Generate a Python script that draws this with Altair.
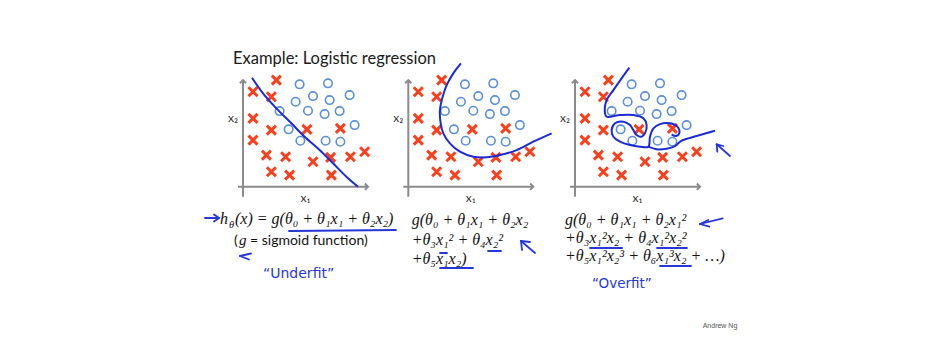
import altair as alt
import pandas as pd

# ---------------- data (x1, x2 in axis units) ----------------
cross_x1 = [2.67, 0.80, 2.27, 0.80, 2.27, 5.12, 7.79, 0.80, 1.87, 3.41, 5.60, 7.01, 8.59, 9.73, 2.27, 3.73, 7.07]
cross_x2 = [8.53, 7.60, 7.20, 5.47, 4.53, 4.59, 4.67, 3.73, 2.53, 2.40, 2.00, 2.35, 2.40, 2.80, 1.20, 0.93, 0.93]
circ_x1 = [4.53, 6.80, 5.60, 4.21, 6.93, 8.53, 2.93, 5.20, 6.53, 7.73, 3.65, 8.93, 4.59, 6.61, 7.79]
circ_x2 = [8.19, 8.27, 7.25, 6.80, 6.93, 7.33, 6.05, 6.08, 5.81, 6.05, 4.59, 4.93, 3.68, 3.68, 3.60]

# decision boundaries
b1_x1 = [0.72, 1.60, 2.67, 3.87, 4.93, 6.13, 7.20, 8.27, 9.20]
b1_x2 = [8.72, 7.47, 6.27, 5.07, 4.00, 2.93, 1.87, 0.80, 0.00]

b2_x1 = [4.21, 3.60, 3.07, 2.75, 2.53, 2.59, 2.80, 3.33, 4.13, 5.20, 6.27, 7.33, 8.67, 10.0, 11.47]
b2_x2 = [9.87, 9.07, 8.13, 7.20, 6.13, 5.07, 4.27, 3.47, 2.80, 2.40, 2.35, 2.53, 2.93, 3.60, 4.27]

b3a_x1 = [4.35, 3.73, 3.07, 2.53, 2.40, 2.53, 3.60, 4.67, 5.47, 5.73, 5.60, 5.33, 4.93, 4.67, 4.40, 3.87,
          3.20, 2.93, 3.07, 3.60, 4.40, 5.20, 5.87, 6.00, 6.27, 6.80, 7.60, 8.19, 8.35, 8.08, 7.73]
b3a_x2 = [9.52, 8.67, 7.73, 6.93, 5.87, 5.60, 5.73, 5.73, 5.47, 4.93, 4.27, 4.00, 4.13, 4.53, 4.93, 5.20,
          5.07, 4.53, 4.00, 3.60, 3.33, 3.20, 3.20, 4.00, 4.67, 5.01, 5.07, 4.80, 4.32, 4.05, 4.19]
b3b_x1 = [5.87, 6.53, 7.33, 8.00, 8.53, 9.73, 11.20]
b3b_x2 = [3.20, 2.99, 3.04, 3.25, 3.68, 4.05, 4.48]

# axis extents (x1 axis, x2 axis)
AXIS_X = [-0.4, 10.0]
AXIS_Y = [-0.8, 8.53]

# texts
TITLE = "Example: Logistic regression"
LBL_X1 = "x₁"
LBL_X2 = "x₂"
F1 = ["h", "θ", "(x) = g(θ₀ + θ₁x₁ + θ₂x₂)"]
F1B = ["(", "g", "= sigmoid function)"]
F2 = ["g(θ₀ + θ₁x₁ + θ₂x₂", "+θ₃x₁² + θ₄x₂²", "+θ₅x₁x₂)"]
F3 = ["g(θ₀ + θ₁x₁ + θ₂x₁²", "+θ₃x₁²x₂ + θ₄x₁²x₂²", "+θ₅x₁²x₂³ + θ₆x₁³x₂ + …)"]
UNDER = "“Underfit”"
OVER = "“Overfit”"
AUTHOR = "Andrew Ng"

# ---------------- styling / layout ----------------
RED = "#f8401f"
BLUE_C = "#5b8fd6"
LINE = "#1b2bd4"
HW = "#2537d8"
GRAY = "#8a8a8a"
SERIF = "Liberation Serif"
SANS = "Lato"
FS = 16
PX = 12.5
H = 348
OY = 178.7

dummy = pd.DataFrame({"a": [0]})


def T(s, x, y, size, font=SERIF, color="#111111", style="italic", align="left", baseline="alphabetic"):
    return alt.Chart(pd.DataFrame({"t": [s]})).mark_text(
        align=align, baseline=baseline, font=font, fontSize=size, fontStyle=style, color=color
    ).encode(x=alt.value(x), y=alt.value(y), text="t:N")


def R(x, y, x2, y2, color=HW, w=1.8):
    return alt.Chart(dummy).mark_rule(color=color, strokeWidth=w, strokeCap="round").encode(
        x=alt.value(x), y=alt.value(y), x2=alt.value(x2), y2=alt.value(y2)
    )


def line_df(segs):
    rows = []
    for sid, (xs, ys) in enumerate(segs):
        for i, (a, b) in enumerate(zip(xs, ys)):
            rows.append({"x1": a, "x2": b, "seg": sid, "i": i})
    return pd.DataFrame(rows)


def panel(W, ox, segs, extra):
    xs = alt.Scale(domain=[-ox / PX, (W - ox) / PX], nice=False, zero=False)
    ys = alt.Scale(domain=[-(H - OY) / PX, OY / PX], nice=False, zero=False)

    def XQ(f):
        return alt.X(f, type="quantitative", scale=xs, axis=None)

    def YQ(f):
        return alt.Y(f, type="quantitative", scale=ys, axis=None)

    def XD(v):
        return alt.XDatum(v, scale=xs, axis=None)

    def YD(v):
        return alt.YDatum(v, scale=ys, axis=None)

    base = alt.Chart(dummy)
    xaxis = base.mark_rule(color=GRAY, strokeWidth=2).encode(
        x=XD(AXIS_X[0]), x2=alt.X2Datum(AXIS_X[1]), y=YD(0))
    yaxis = base.mark_rule(color=GRAY, strokeWidth=2).encode(
        x=XD(0), y=YD(AXIS_Y[0]), y2=alt.Y2Datum(AXIS_Y[1]))
    chev = "M-1,-1L0,0L-1,1"
    xhead = base.mark_point(shape=chev, filled=False, color=GRAY, strokeWidth=2, size=40, opacity=1).encode(
        x=XD(AXIS_X[1]), y=YD(0), angle=alt.value(0))
    yhead = base.mark_point(shape=chev, filled=False, color=GRAY, strokeWidth=2, size=40, opacity=1).encode(
        x=XD(0), y=YD(AXIS_Y[1]), angle=alt.value(270))

    crosses = alt.Chart(pd.DataFrame({"x1": cross_x1, "x2": cross_x2})).mark_point(
        shape="M-1,-1L1,1M1,-1L-1,1", filled=False, color=RED, strokeWidth=3, size=81, opacity=1
    ).encode(x=XQ("x1"), y=YQ("x2"))
    circles = alt.Chart(pd.DataFrame({"x1": circ_x1, "x2": circ_x2})).mark_point(
        shape="circle", filled=False, color=BLUE_C, strokeWidth=1.6, size=72, opacity=1
    ).encode(x=XQ("x1"), y=YQ("x2"))
    bnd = alt.Chart(line_df(segs)).mark_line(
        color=LINE, strokeWidth=2, interpolate="catmull-rom"
    ).encode(x=XQ("x1"), y=YQ("x2"), detail="seg:N", order="i:Q")

    lx2 = alt.Chart(pd.DataFrame({"t": [LBL_X2]})).mark_text(
        align="left", baseline="alphabetic", font=SANS, fontSize=12, color="#333333"
    ).encode(x=XD(-1.2), y=YD(5.17), text="t:N")
    lx1 = alt.Chart(pd.DataFrame({"t": [LBL_X1]})).mark_text(
        align="center", baseline="alphabetic", font=SANS, fontSize=12, color="#333333"
    ).encode(x=XD(5.0), y=YD(-1.22), text="t:N")

    layers = [xaxis, yaxis, xhead, yhead, crosses, circles, bnd, lx2, lx1] + extra
    return alt.layer(*layers).properties(width=W, height=H)


# panel 1 (left edge at page x 8)
ex1 = [
    T(TITLE, 225, 56, 16.5, font=SANS, color="#1a1a1a", style="normal"),
    R(197, 210, 211, 210), R(211, 210, 206, 206.5), R(211, 210, 206, 213.5),
    T(F1[0], 212, 216, FS), T(F1[1], 221, 219.5, 10.5), T(F1[2], 227, 216, FS),
    R(281, 223, 388, 222),
    T(F1B[0], 226, 237, 14, font=SANS, style="normal"),
    T(F1B[1], 231, 237, 15),
    T(F1B[2], 242, 237, 14, font=SANS, style="normal"),
    R(243, 245.5, 232, 248), R(232, 248, 241, 251.5),
    T(UNDER, 255, 266, 14, font="DejaVu Sans", color=HW, style="normal", baseline="middle"),
]
p1 = panel(382, 235, [(b1_x1, b1_x2)], ex1)

# panel 2 (left edge at page x 390)
ex2 = [
    T(F2[0], 21.7, 217, FS), T(F2[1], 21.7, 237, FS), T(F2[2], 21.7, 255.5, FS),
    R(98, 243, 111, 243), R(50, 245, 57, 245), R(50, 260, 83, 260),
    R(131, 233, 145, 245), R(131, 233, 132, 242), R(131, 233, 140, 234),
]
p2 = panel(170, 18.3, [(b2_x1, b2_x2)], ex2)

# panel 3 (left edge at page x 560)
ex3 = [
    T(F3[0], 5, 217, FS), T(F3[1], 5, 235, FS), T(F3[2], 5, 253, FS),
    R(30, 240, 62, 240), R(97, 240, 127, 240), R(100, 258, 131, 258),
    R(140, 216, 162.7, 210.3), R(140, 216, 148.3, 212), R(140, 216, 149.3, 218.7),
    R(156.7, 136.3, 170, 148), R(156.7, 136.3, 157.3, 143.7), R(156.7, 136.3, 163.3, 138),
    T(OVER, 32, 276, 13.5, font="DejaVu Sans", color=HW, style="normal", baseline="middle"),
    T(AUTHOR, 160, 317.5, 7, font="Liberation Sans", color="#555555", style="normal",
      align="center", baseline="middle"),
]
p3 = panel(384, 15, [(b3a_x1, b3a_x2), (b3b_x1, b3b_x2)], ex3)

chart = alt.hconcat(p1, p2, p3, spacing=0, bounds="flush").properties(
    padding=0, background="white"
).configure_view(strokeWidth=0)

chart.save("out.html", embed_options={"renderer": "svg", "actions": False})
